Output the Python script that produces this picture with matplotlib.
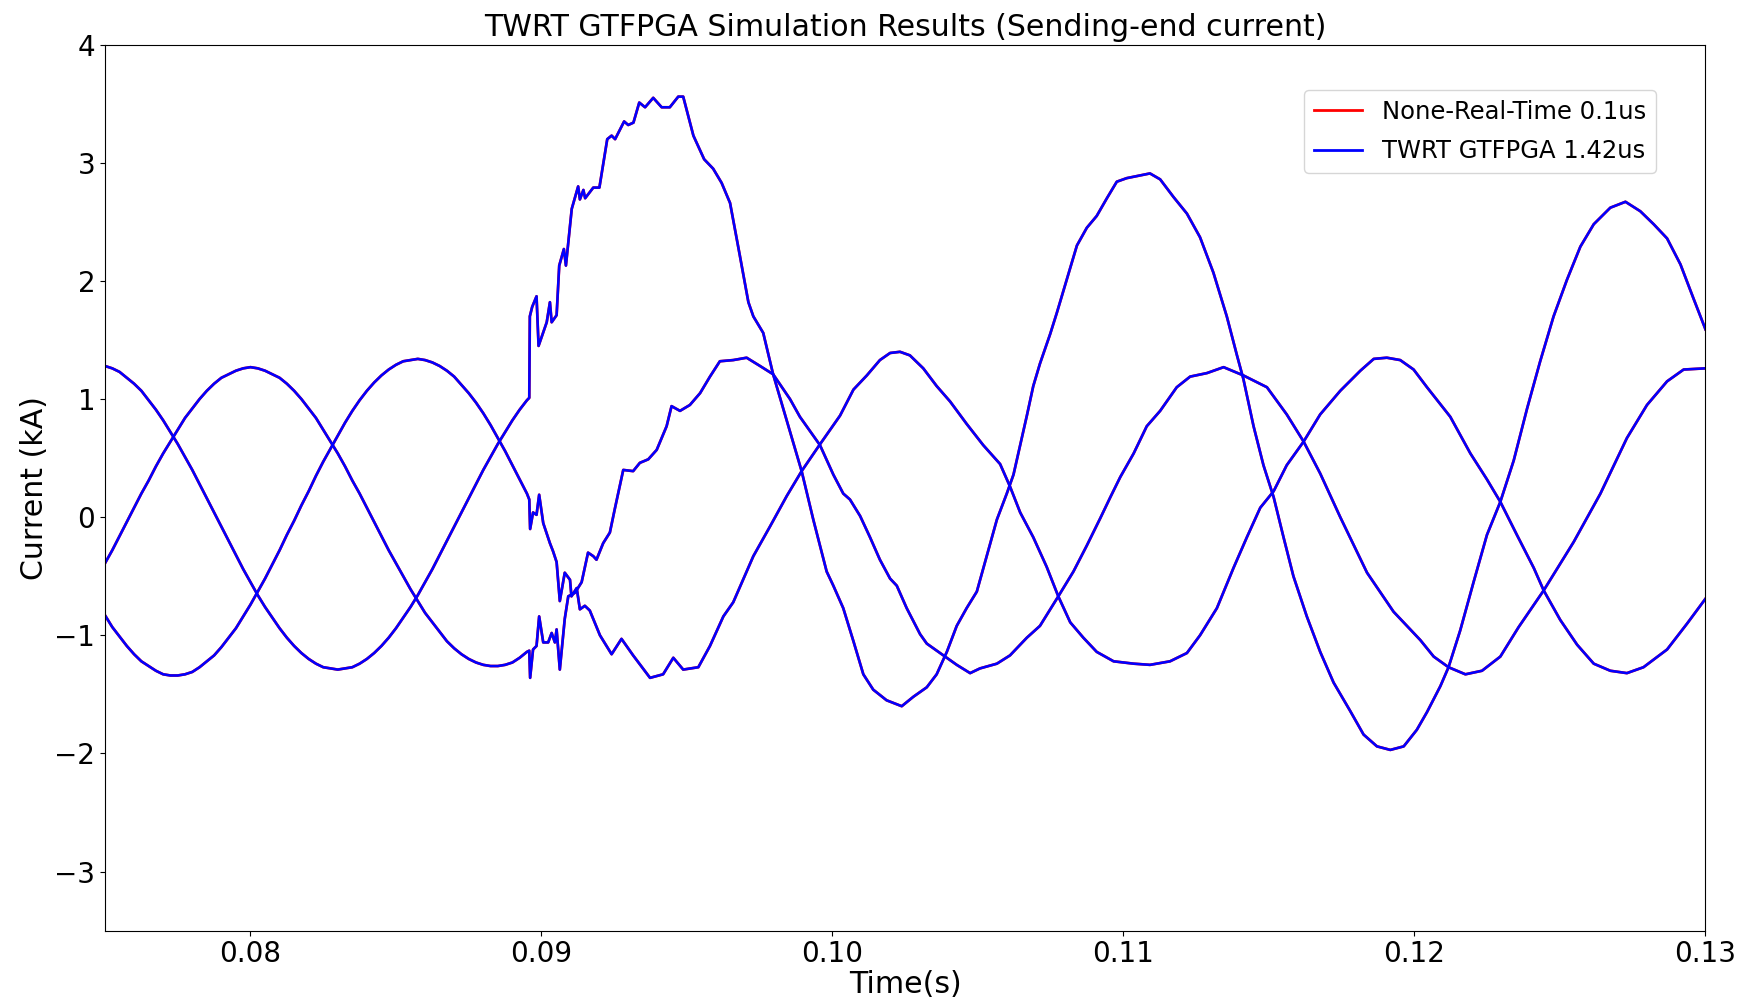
import matplotlib
matplotlib.use("Agg")
import matplotlib.pyplot as plt

# ---------------- data ----------------
# time grid before the fault (s)
t_pre = [0.07500, 0.07525, 0.07550, 0.07575, 0.07600, 0.07625, 0.07650, 0.07675, 0.07700, 0.07725,
         0.07750, 0.07775, 0.07800, 0.07825, 0.07850, 0.07875, 0.07900, 0.07925, 0.07950, 0.07975,
         0.08000, 0.08025, 0.08050, 0.08075, 0.08100, 0.08125, 0.08150, 0.08175, 0.08200, 0.08225,
         0.08250, 0.08275, 0.08300, 0.08325, 0.08350, 0.08375, 0.08400, 0.08425, 0.08450, 0.08475,
         0.08500, 0.08525, 0.08550, 0.08575, 0.08600, 0.08625, 0.08650, 0.08675, 0.08700, 0.08725,
         0.08750, 0.08775, 0.08800, 0.08825, 0.08850, 0.08875, 0.08900, 0.08925, 0.08950]

# phase currents before the fault (kA)
ia_pre = [-0.83, -0.93, -1.01, -1.09, -1.16, -1.22, -1.26, -1.30, -1.33, -1.34,
          -1.34, -1.33, -1.31, -1.27, -1.22, -1.17, -1.10, -1.02, -0.94, -0.84,
          -0.74, -0.63, -0.52, -0.40, -0.28, -0.15, -0.03, 0.10, 0.22, 0.35,
          0.47, 0.58, 0.69, 0.80, 0.90, 0.99, 1.07, 1.14, 1.20, 1.25,
          1.29, 1.32, 1.33, 1.34, 1.33, 1.31, 1.28, 1.24, 1.19, 1.12,
          1.05, 0.97, 0.88, 0.78, 0.67, 0.56, 0.44, 0.32, 0.20]
ib_pre = [-0.39, -0.28, -0.16, -0.04, 0.08, 0.20, 0.31, 0.43, 0.54, 0.64,
          0.74, 0.84, 0.92, 1.00, 1.07, 1.13, 1.18, 1.21, 1.24, 1.26,
          1.27, 1.26, 1.24, 1.21, 1.18, 1.13, 1.07, 1.00, 0.92, 0.84,
          0.74, 0.64, 0.54, 0.43, 0.31, 0.20, 0.08, -0.04, -0.16, -0.28,
          -0.39, -0.50, -0.61, -0.71, -0.81, -0.89, -0.97, -1.05, -1.11, -1.16,
          -1.20, -1.23, -1.25, -1.26, -1.26, -1.25, -1.23, -1.19, -1.14]
ic_pre = [1.28, 1.26, 1.23, 1.18, 1.13, 1.07, 0.99, 0.91, 0.82, 0.72,
          0.62, 0.51, 0.40, 0.28, 0.16, 0.04, -0.08, -0.20, -0.32, -0.44,
          -0.55, -0.66, -0.76, -0.85, -0.94, -1.02, -1.09, -1.15, -1.20, -1.24,
          -1.27, -1.28, -1.29, -1.28, -1.27, -1.24, -1.20, -1.15, -1.09, -1.02,
          -0.94, -0.85, -0.76, -0.66, -0.55, -0.44, -0.32, -0.20, -0.08, 0.04,
          0.16, 0.28, 0.40, 0.51, 0.62, 0.72, 0.82, 0.91, 0.99]

# phase A after the fault: (time s, current kA)
ia_post = [(0.08958, 0.15), (0.08961, -0.10), (0.08971, 0.04), (0.08983, 0.02), (0.08992, 0.19),
           (0.09006, -0.05), (0.09029, -0.22), (0.09040, -0.29), (0.09052, -0.38), (0.09063, -0.71),
           (0.09080, -0.47), (0.09098, -0.53), (0.09103, -0.67), (0.09121, -0.60), (0.09132, -0.78),
           (0.09149, -0.75), (0.09166, -0.79), (0.09201, -1.00), (0.09241, -1.16), (0.09275, -1.03),
           (0.09315, -1.17), (0.09373, -1.36), (0.09418, -1.33), (0.09453, -1.19), (0.09487, -1.29),
           (0.09539, -1.27), (0.09579, -1.09), (0.09625, -0.84), (0.09659, -0.72), (0.09728, -0.33),
           (0.09785, -0.08), (0.09843, 0.18), (0.09894, 0.39), (0.09955, 0.61), (0.10026, 0.86),
           (0.10072, 1.08), (0.10118, 1.20), (0.10163, 1.33), (0.10198, 1.39), (0.10232, 1.40),
           (0.10266, 1.37), (0.10312, 1.26), (0.10358, 1.11), (0.10404, 0.98), (0.10461, 0.79),
           (0.10518, 0.61), (0.10576, 0.45), (0.10610, 0.26), (0.10645, 0.04), (0.10690, -0.17),
           (0.10736, -0.42), (0.10776, -0.67), (0.10817, -0.89), (0.10862, -1.02), (0.10908, -1.14),
           (0.10966, -1.22), (0.11035, -1.24), (0.11091, -1.25), (0.11160, -1.22), (0.11218, -1.15),
           (0.11263, -1.00), (0.11321, -0.77), (0.11378, -0.43), (0.11424, -0.17), (0.11470, 0.08),
           (0.11516, 0.22), (0.11561, 0.44), (0.11619, 0.64), (0.11676, 0.87), (0.11745, 1.07),
           (0.11814, 1.24), (0.11860, 1.34), (0.11905, 1.35), (0.11951, 1.33), (0.11997, 1.25),
           (0.12043, 1.10), (0.12123, 0.85), (0.12192, 0.54), (0.12249, 0.32), (0.12295, 0.13),
           (0.12352, -0.15), (0.12410, -0.43), (0.12444, -0.62), (0.12501, -0.87), (0.12559, -1.08),
           (0.12616, -1.24), (0.12673, -1.30), (0.12730, -1.32), (0.12787, -1.27), (0.12868, -1.12),
           (0.12937, -0.90), (0.13000, -0.69)]

# phase B after the fault
ib_post = [(0.08958, -1.13), (0.08961, -1.36), (0.08971, -1.12), (0.08983, -1.09), (0.08992, -0.84),
           (0.09006, -1.06), (0.09023, -1.06), (0.09035, -0.98), (0.09046, -1.06), (0.09052, -0.95),
           (0.09063, -1.29), (0.09080, -0.86), (0.09092, -0.67), (0.09115, -0.64), (0.09138, -0.55),
           (0.09160, -0.30), (0.09178, -0.33), (0.09189, -0.36), (0.09212, -0.22), (0.09235, -0.13),
           (0.09252, 0.07), (0.09281, 0.40), (0.09315, 0.39), (0.09338, 0.46), (0.09367, 0.49),
           (0.09396, 0.57), (0.09430, 0.77), (0.09447, 0.94), (0.09476, 0.90), (0.09510, 0.95),
           (0.09545, 1.05), (0.09579, 1.19), (0.09613, 1.32), (0.09659, 1.33), (0.09705, 1.35),
           (0.09751, 1.28), (0.09796, 1.21), (0.09854, 1.00), (0.09888, 0.85), (0.09957, 0.61),
           (0.10003, 0.36), (0.10037, 0.20), (0.10060, 0.15), (0.10095, 0.01), (0.10129, -0.17),
           (0.10163, -0.36), (0.10198, -0.52), (0.10221, -0.58), (0.10255, -0.77), (0.10301, -0.99),
           (0.10324, -1.07), (0.10381, -1.17), (0.10427, -1.25), (0.10473, -1.32), (0.10507, -1.28),
           (0.10565, -1.24), (0.10610, -1.17), (0.10668, -1.02), (0.10713, -0.92), (0.10776, -0.67),
           (0.10828, -0.46), (0.10874, -0.24), (0.10920, -0.01), (0.10955, 0.17), (0.10989, 0.34),
           (0.11035, 0.54), (0.11080, 0.77), (0.11126, 0.90), (0.11183, 1.10), (0.11229, 1.19),
           (0.11287, 1.22), (0.11344, 1.27), (0.11412, 1.20), (0.11493, 1.10), (0.11561, 0.87),
           (0.11619, 0.64), (0.11676, 0.37), (0.11745, 0.00), (0.11837, -0.47), (0.11928, -0.80),
           (0.12020, -1.04), (0.12066, -1.18), (0.12117, -1.27), (0.12175, -1.33), (0.12232, -1.30),
           (0.12295, -1.18), (0.12358, -0.93), (0.12444, -0.62), (0.12547, -0.21), (0.12639, 0.20),
           (0.12730, 0.67), (0.12799, 0.95), (0.12868, 1.15), (0.12925, 1.25), (0.13000, 1.26)]

# phase C after the fault
ic_post = [(0.08958, 1.01), (0.08960, 1.70), (0.08968, 1.78), (0.08983, 1.87), (0.08990, 1.45),
           (0.09018, 1.65), (0.09029, 1.82), (0.09035, 1.65), (0.09052, 1.71), (0.09061, 2.13),
           (0.09077, 2.27), (0.09084, 2.13), (0.09104, 2.61), (0.09126, 2.80), (0.09132, 2.69),
           (0.09144, 2.77), (0.09150, 2.70), (0.09178, 2.79), (0.09199, 2.79), (0.09226, 3.20),
           (0.09241, 3.23), (0.09253, 3.20), (0.09284, 3.35), (0.09298, 3.32), (0.09316, 3.34),
           (0.09336, 3.51), (0.09356, 3.47), (0.09384, 3.55), (0.09413, 3.47), (0.09441, 3.47),
           (0.09470, 3.56), (0.09487, 3.56), (0.09522, 3.23), (0.09559, 3.03), (0.09590, 2.95),
           (0.09619, 2.83), (0.09648, 2.66), (0.09682, 2.21), (0.09711, 1.82), (0.09728, 1.70),
           (0.09762, 1.56), (0.09796, 1.21), (0.09845, 0.80), (0.09894, 0.39), (0.09934, -0.02),
           (0.09957, -0.24), (0.09980, -0.46), (0.10003, -0.58), (0.10037, -0.77), (0.10072, -1.05),
           (0.10106, -1.33), (0.10140, -1.46), (0.10186, -1.55), (0.10238, -1.60), (0.10278, -1.52),
           (0.10324, -1.44), (0.10358, -1.33), (0.10393, -1.14), (0.10427, -0.92), (0.10461, -0.77),
           (0.10496, -0.63), (0.10530, -0.33), (0.10565, -0.02), (0.10599, 0.20), (0.10622, 0.36),
           (0.10645, 0.61), (0.10668, 0.86), (0.10690, 1.11), (0.10713, 1.30), (0.10748, 1.55),
           (0.10771, 1.73), (0.10805, 2.01), (0.10840, 2.30), (0.10874, 2.45), (0.10908, 2.55),
           (0.10943, 2.70), (0.10977, 2.84), (0.11011, 2.87), (0.11091, 2.91), (0.11126, 2.86),
           (0.11172, 2.71), (0.11218, 2.57), (0.11263, 2.37), (0.11309, 2.07), (0.11355, 1.70),
           (0.11390, 1.37), (0.11412, 1.17), (0.11447, 0.77), (0.11481, 0.44), (0.11516, 0.17),
           (0.11550, -0.17), (0.11584, -0.50), (0.11630, -0.84), (0.11676, -1.14), (0.11722, -1.40),
           (0.11779, -1.64), (0.11825, -1.84), (0.11871, -1.94), (0.11917, -1.97), (0.11963, -1.94),
           (0.12008, -1.80), (0.12043, -1.65), (0.12089, -1.43), (0.12117, -1.27), (0.12157, -0.96),
           (0.12203, -0.55), (0.12249, -0.15), (0.12295, 0.13), (0.12341, 0.48), (0.12387, 0.92),
           (0.12432, 1.32), (0.12478, 1.70), (0.12524, 2.01), (0.12570, 2.29), (0.12616, 2.48),
           (0.12673, 2.62), (0.12725, 2.67), (0.12776, 2.59), (0.12822, 2.48), (0.12868, 2.36),
           (0.12914, 2.14), (0.12959, 1.85), (0.13000, 1.59)]

series_labels = ["None-Real-Time 0.1us", "TWRT GTFPGA 1.42us"]
x_ticks = [0.08, 0.09, 0.10, 0.11, 0.12, 0.13]
x_tick_labels = ["0.08", "0.09", "0.10", "0.11", "0.12", "0.13"]
y_ticks = [-3, -2, -1, 0, 1, 2, 3, 4]
# -------------------------------------------------------------------------


def build(pre, post):
    n = min(len(t_pre), len(pre))
    t = list(t_pre[:n]) + [p[0] for p in post]
    v = list(pre[:n]) + [p[1] for p in post]
    return t, v


phases = [build(ia_pre, ia_post), build(ib_pre, ib_post), build(ic_pre, ic_post)]

fig = plt.figure(figsize=(17.41, 10.06), dpi=100)
ax = fig.add_axes([0.0603, 0.0749, 0.9193, 0.8807])

# non real-time reference simulation in red, real-time result in blue on top
for k, (t, v) in enumerate(phases):
    ax.plot(t, v, color="red", lw=1.95, label=series_labels[0] if k == 0 else None,
            solid_joinstyle="round")
for k, (t, v) in enumerate(phases):
    ax.plot(t, v, color="blue", lw=1.85, label=series_labels[1] if k == 0 else None,
            solid_joinstyle="round")

ax.set_xlim(0.075, 0.13)
ax.set_ylim(-3.5, 4)
ax.set_xticks(x_ticks)
ax.set_xticklabels(x_tick_labels)
ax.set_yticks(y_ticks)
ax.tick_params(labelsize=20)
ax.set_xlabel("Time(s)", fontsize=21.6, labelpad=1)
ax.set_ylabel("Current (kA)", fontsize=21.6)
ax.set_title("TWRT GTFPGA Simulation Results (Sending-end current)", fontsize=21.6)

leg = ax.legend(loc="upper right", bbox_to_anchor=(0.969, 0.949), borderaxespad=0,
                fontsize=17.5, labelspacing=0.64)
for line in leg.get_lines():
    line.set_linewidth(2.0)

fig.savefig("out.png", dpi=100)
